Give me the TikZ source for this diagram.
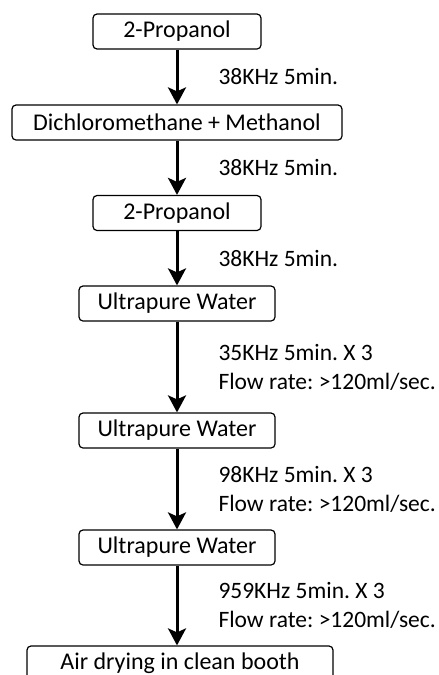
\documentclass[tikz,border=0pt]{standalone}
\usepackage{fontspec}
\setmainfont{Carlito}
\usetikzlibrary{arrows.meta, positioning}
\frenchspacing

\begin{document}
\begin{tikzpicture}[x=1pt, y=-1pt,
    stepbox/.style={draw, line width=1.2pt, rounded corners=4pt, minimum height=35pt, inner sep=0pt, font=\fontsize{24}{28}\selectfont},
    flow/.style={-{Stealth[length=17pt, width=18pt, inset=4pt]}, line width=3pt},
    cond/.style={anchor=west, align=left, inner sep=0pt, xshift=40pt, font=\fontsize{23.5}{29}\selectfont}]
    \useasboundingbox (0,0) rectangle (439,675);

    % Cleaning steps
    \node[stepbox, minimum width=168pt] (ipa1) at (177,31.5) {2-Propanol};
    \node[stepbox, minimum width=330pt] (dcm) at (177,122.5) {Dichloromethane + Methanol};
    \node[stepbox, minimum width=168pt] (ipa2) at (177,213) {2-Propanol};
    \node[stepbox, minimum width=196pt] (upw1) at (177,303.5) {Ultrapure Water};
    \node[stepbox, minimum width=196pt] (upw2) at (177,430.5) {Ultrapure Water};
    \node[stepbox, minimum width=196pt] (upw3) at (177,547.5) {Ultrapure Water};
    \node[stepbox, minimum width=306pt] (dry) at (180,663.5) {Air drying in clean booth};

    % Arrows with conditions
    \draw[flow] (ipa1) -- (dcm) node[cond, midway] (c1) {38KHz 5min.};
    \draw[flow] (dcm) -- (ipa2) node[cond, midway] (c2) {38KHz 5min.};
    \draw[flow] (ipa2) -- (upw1) node[cond, midway] (c3) {38KHz 5min.};
    \draw[flow] (upw1) -- (upw2) node[cond, midway] (c4) {35KHz 5min. X 3\\Flow rate: >120ml/sec.};
    \draw[flow] (upw2) -- (upw3) node[cond, midway] (c5) {98KHz 5min. X 3\\Flow rate: >120ml/sec.};
    \draw[flow] (upw3.south) -- (upw3.south |- dry.north) node[cond, midway] (c6) {959KHz 5min. X 3\\Flow rate: >120ml/sec.};
\end{tikzpicture}
\end{document}
